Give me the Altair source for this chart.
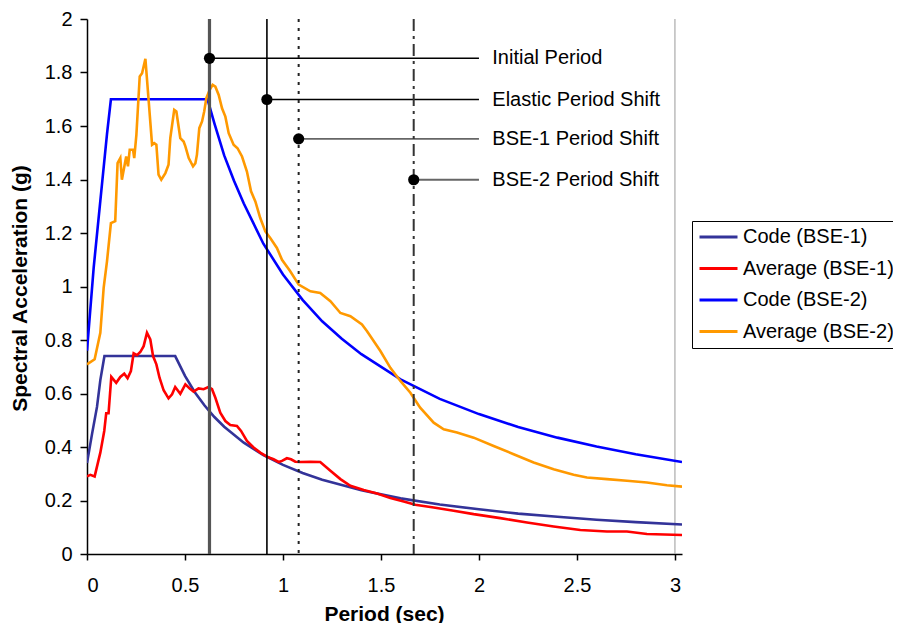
import altair as alt
import pandas as pd

FONT = "Liberation Sans, Arial, sans-serif"

# ---------------- data ----------------
series_names = ["Code (BSE-1)", "Average (BSE-1)", "Code (BSE-2)", "Average (BSE-2)"]
series_colors = ["#333399", "#FF0000", "#0000FF", "#FF9900"]

code1_T = [0, 0.026, 0.051, 0.068, 0.089, 0.45, 0.5, 0.55, 0.6, 0.65, 0.7, 0.8, 0.9, 1.0,
           1.1, 1.2, 1.4, 1.6, 1.8, 2.0, 2.2, 2.4, 2.6, 2.8, 3.036]
code1_Sa = [0.34, 0.45, 0.55, 0.65, 0.74, 0.74, 0.666, 0.605, 0.555, 0.512, 0.476, 0.416, 0.37, 0.333,
            0.303, 0.278, 0.238, 0.208, 0.185, 0.167, 0.151, 0.139, 0.128, 0.119, 0.11]

avg1_T = [0, 0.017, 0.039, 0.054, 0.068, 0.088, 0.098, 0.11, 0.124, 0.149, 0.17, 0.19, 0.207,
          0.224, 0.238, 0.255, 0.272, 0.289, 0.306, 0.323, 0.337, 0.354, 0.37, 0.391, 0.416,
          0.434, 0.45, 0.476, 0.502, 0.524, 0.544, 0.569, 0.595, 0.62, 0.638, 0.655, 0.68,
          0.706, 0.731, 0.765, 0.786, 0.816, 0.85, 0.884, 0.918, 0.952, 0.978, 0.995, 1.02,
          1.041, 1.063, 1.088, 1.14, 1.19, 1.242, 1.293, 1.344, 1.412, 1.48, 1.548, 1.616,
          1.675, 1.769, 1.871, 1.973, 2.109, 2.245, 2.381, 2.517, 2.653, 2.755, 2.857, 3.036]
avg1_Sa = [0.29, 0.296, 0.29, 0.336, 0.379, 0.46, 0.526, 0.526, 0.662, 0.64, 0.662, 0.674, 0.657,
           0.684, 0.75, 0.743, 0.755, 0.777, 0.827, 0.802, 0.74, 0.709, 0.659, 0.612, 0.582,
           0.597, 0.624, 0.599, 0.634, 0.619, 0.607, 0.619, 0.616, 0.624, 0.616, 0.584, 0.528,
           0.497, 0.482, 0.479, 0.46, 0.423, 0.398, 0.379, 0.364, 0.354, 0.344, 0.348, 0.358,
           0.354, 0.345, 0.344, 0.345, 0.344, 0.311, 0.28, 0.255, 0.239, 0.226, 0.209, 0.196,
           0.184, 0.174, 0.162, 0.149, 0.134, 0.118, 0.103, 0.09, 0.084, 0.084, 0.075, 0.071]

code2_T = [0, 0.034, 0.068, 0.102, 0.122, 0.615, 0.65, 0.7, 0.75, 0.8, 0.9, 1.0, 1.1, 1.2,
           1.3, 1.4, 1.6, 1.8, 2.0, 2.2, 2.4, 2.6, 2.8, 3.036]
code2_Sa = [0.76, 1.07, 1.32, 1.57, 1.70, 1.70, 1.61, 1.49, 1.395, 1.31, 1.16, 1.045, 0.95, 0.87,
            0.805, 0.747, 0.653, 0.58, 0.523, 0.475, 0.435, 0.402, 0.373, 0.344]

avg2_T = [0, 0.039, 0.068, 0.085, 0.102, 0.122, 0.144, 0.156, 0.17, 0.178, 0.2, 0.209, 0.218,
          0.235, 0.241, 0.252, 0.269, 0.281, 0.298, 0.315, 0.332, 0.343, 0.354, 0.365, 0.379,
          0.40, 0.416, 0.425, 0.445, 0.456, 0.476, 0.493, 0.502, 0.519, 0.541, 0.553, 0.561,
          0.573, 0.587, 0.598, 0.609, 0.626, 0.641, 0.655, 0.672, 0.689, 0.706, 0.723, 0.748,
          0.768, 0.791, 0.816, 0.837, 0.859, 0.884, 0.91, 0.935, 0.969, 0.995, 1.037, 1.08,
          1.14, 1.19, 1.242, 1.293, 1.344, 1.403, 1.429, 1.497, 1.548, 1.599, 1.65, 1.70,
          1.769, 1.82, 1.888, 1.973, 2.075, 2.177, 2.279, 2.381, 2.483, 2.551, 2.653, 2.755,
          2.857, 2.959, 3.036]
avg2_Sa = [0.709, 0.728, 0.827, 0.995, 1.094, 1.237, 1.244, 1.461, 1.48, 1.399, 1.486, 1.449,
           1.511, 1.511, 1.48, 1.567, 1.785, 1.797, 1.851, 1.691, 1.53, 1.536, 1.530, 1.418,
           1.399, 1.424, 1.455, 1.555, 1.660, 1.654, 1.555, 1.542, 1.524, 1.48, 1.449, 1.461,
           1.493, 1.592, 1.617, 1.654, 1.704, 1.735, 1.754, 1.747, 1.716, 1.666, 1.635, 1.573,
           1.53, 1.517, 1.486, 1.43, 1.356, 1.318, 1.256, 1.206, 1.181, 1.144, 1.10, 1.057,
           1.007, 0.982, 0.976, 0.945, 0.901, 0.889, 0.858, 0.833, 0.759, 0.696, 0.647, 0.603,
           0.547, 0.491, 0.466, 0.454, 0.435, 0.404, 0.373, 0.342, 0.317, 0.296, 0.286, 0.28,
           0.274, 0.267, 0.257, 0.252]

marker_names = ["Initial Period", "Elastic Period Shift", "BSE-1 Period Shift", "BSE-2 Period Shift"]
marker_T = [0.625, 0.918, 1.08, 1.667]
marker_Sa = [1.853, 1.699, 1.552, 1.399]
leader_end_T = [2.0, 2.0, 2.0, 2.0]
label_T = [2.068, 2.068, 2.068, 2.068]

border_T = [3.0]

x_ticks = [0, 0.5, 1, 1.5, 2, 2.5, 3]
y_ticks = [0, 0.2, 0.4, 0.6, 0.8, 1, 1.2, 1.4, 1.6, 1.8, 2]

# ---------------- tables ----------------
rows = []
for name, Ts, Ss in zip(series_names, [code1_T, avg1_T, code2_T, avg2_T],
                        [code1_Sa, avg1_Sa, code2_Sa, avg2_Sa]):
    for i, (t, s) in enumerate(zip(Ts, Ss)):
        rows.append({"series": name, "T": t, "Sa": s, "i": i})
df = pd.DataFrame(rows)

mk = pd.DataFrame({"name": marker_names, "T": marker_T, "Sa": marker_Sa,
                   "TE": leader_end_T, "TL": label_T})
bd = pd.DataFrame({"T": border_T})

xs = alt.Scale(domain=[0, 3.036], nice=False, zero=False)
ys = alt.Scale(domain=[0, 2], nice=False)

x_axis = alt.Axis(values=x_ticks, format="~g", title="Period (sec)", tickSize=6,
                  labelPadding=15, titleX=297, titleY=60, titleBaseline="middle",
                  titleAlign="center")
y_axis = alt.Axis(values=y_ticks, format="~g", title="Spectral Acceleration (g)",
                  tickSize=7, labelPadding=8, titleX=-67, titleY=269, titleAngle=270,
                  titleBaseline="middle", titleAlign="center")


def X(field):
    return alt.X(field, type="quantitative", scale=xs, axis=x_axis)


def Y(field):
    return alt.Y(field, type="quantitative", scale=ys, axis=y_axis)


lines = alt.Chart(df).mark_line(strokeWidth=2.6, clip=True).encode(
    x=X("T"),
    y=Y("Sa"),
    color=alt.Color("series:N", scale=alt.Scale(domain=series_names, range=series_colors),
                    legend=alt.Legend(title=None, orient="none", legendX=605, legendY=202,
                                      strokeColor="black", fillColor="white", padding=6,
                                      symbolType="stroke", symbolSize=1444,
                                      symbolStrokeWidth=3, labelFontSize=20, labelOffset=4,
                                      clipHeight=20, rowPadding=11.5, labelLimit=0,
                                      labelFont=FONT, labelColor="black")),
    order="i:Q",
)

border = alt.Chart(bd).mark_rule(color="#999999", strokeWidth=1).encode(x=X("T"))

vstyles = [
    dict(color="#555555", strokeWidth=3.2),
    dict(color="black", strokeWidth=1.6),
    dict(color="#222222", strokeWidth=2, strokeDash=[3, 6]),
    dict(color="#333333", strokeWidth=2, strokeDash=[12, 5, 3, 5]),
]
lstyles = [
    dict(color="black", strokeWidth=1.5),
    dict(color="black", strokeWidth=1.5),
    dict(color="#666666", strokeWidth=1.8),
    dict(color="#666666", strokeWidth=1.8),
]

layers = [border, lines]
for k, nm in enumerate(marker_names):
    base = alt.Chart(mk).transform_filter(alt.datum.name == nm)
    layers.append(base.mark_rule(**vstyles[k]).encode(x=X("T")))
    layers.append(base.mark_rule(**lstyles[k]).encode(x=X("T"), x2="TE", y=Y("Sa")))

dots = alt.Chart(mk).mark_point(filled=True, shape="circle", size=125, color="black",
                                opacity=1).encode(x=X("T"), y=Y("Sa"))
labels = alt.Chart(mk).mark_text(align="left", baseline="middle", fontSize=20, font=FONT,
                                 color="black").encode(x=X("TL"), y=Y("Sa"), text="name:N")
layers += [dots, labels]

chart = alt.layer(*layers).properties(
    width=595, height=535,
    padding={"left": 79, "top": 11, "right": 211, "bottom": 69},
    autosize=alt.AutoSizeParams(type="none"),
    background="white",
).configure_view(strokeWidth=0).configure_axis(
    grid=False, domainColor="black", domainWidth=1.5, tickColor="black", tickWidth=1.5,
    labelFont=FONT, labelFontSize=20, labelColor="black",
    titleFont=FONT, titleFontSize=21, titleFontWeight="bold", titleColor="black",
)

chart.save("out.html", embed_options={"renderer": "svg", "actions": False})
